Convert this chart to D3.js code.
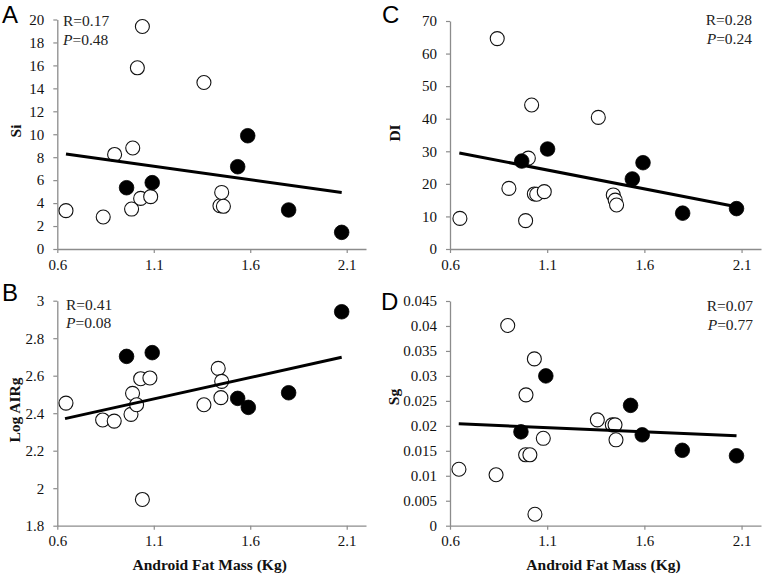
<!DOCTYPE html>
<html><head><meta charset="utf-8">
<script src="https://cdn.jsdelivr.net/npm/d3@7"></script>
<style>
html,body{margin:0;padding:0;background:#fff;}
svg{display:block;}
</style></head>
<body>
<svg id="chart" width="762" height="574"></svg>
<script>
// ---------- DATA ----------
const xTicks = [0.6, 1.1, 1.6, 2.1];

// Panel A : Si
const aOpenX = [0.645,0.838,0.897,0.985,0.991,1.015,1.032,1.041,1.084,1.360,1.443,1.452,1.461];
const aOpenY = [3.34,2.79,8.24,3.48,8.80,15.79,4.41,19.39,4.56,14.51,3.77,4.93,3.72];
const aFillX = [0.959,1.092,1.535,1.587,1.799,2.074];
const aFillY = [5.34,5.78,7.17,9.87,3.40,1.45];
const aTrendX = [0.645, 2.074];
const aTrendY = [8.27, 4.93];
const aTicks = [0,2,4,6,8,10,12,14,16,18,20];

// Panel B : Log AIRg
const bOpenX = [0.645,0.835,0.895,0.982,0.990,1.011,1.032,1.041,1.080,1.360,1.434,1.448,1.452];
const bOpenY = [2.454,2.364,2.358,2.394,2.506,2.445,2.584,1.940,2.588,2.445,2.639,2.483,2.570];
const bFillX = [0.959,1.092,1.535,1.590,1.799,2.074];
const bFillY = [2.703,2.723,2.479,2.431,2.509,2.941];
const bTrendX = [0.640, 2.074];
const bTrendY = [2.371, 2.698];
const bTicks = [1.8,2.0,2.2,2.4,2.6,2.8,3.0];

// Panel C : DI
const cOpenX = [0.651,0.843,0.903,0.989,1.003,1.020,1.034,1.046,1.085,1.363,1.440,1.450,1.457];
const cOpenY = [9.4,64.6,18.6,8.7,27.9,44.2,16.9,16.8,17.6,40.4,16.6,15.0,13.5];
const cFillX = [0.969,1.102,1.538,1.593,1.797,2.074];
const cFillY = [27.0,30.7,21.5,26.5,11.0,12.4];
const cTrendX = [0.648, 2.074];
const cTrendY = [29.5, 13.0];
const cTicks = [0,10,20,30,40,50,60,70];

// Panel D : Sg
const dOpenX = [0.646,0.837,0.897,0.989,0.991,1.011,1.034,1.037,1.080,1.358,1.435,1.449,1.454];
const dOpenY = [0.0113,0.0102,0.0401,0.0142,0.0262,0.0142,0.0334,0.0023,0.0175,0.0212,0.0202,0.0202,0.0172];
const dFillX = [0.965,1.093,1.529,1.589,1.795,2.074];
const dFillY = [0.0188,0.0300,0.0241,0.0182,0.0151,0.0140];
const dTrendX = [0.645, 2.074];
const dTrendY = [0.0204, 0.0180];
const dTicks = [0,0.005,0.01,0.015,0.02,0.025,0.03,0.035,0.04,0.045];

const panelLetters = ["A","B","C","D"];
const yTitles = ["Si","Log AIRg","DI","Sg"];
const rTexts = ["R=0.17","R=0.41","R=0.28","R=0.07"];
const pTexts = ["=0.48","=0.08","=0.24","=0.77"];
const xTitle = "Android Fat Mass (Kg)";

// ---------- LAYOUT ----------
const svg = d3.select("#chart");
const AXIS_COLOR = "#8c8c8c";
const SERIF = "'Liberation Serif','Times New Roman',serif";
const SANS = "'Liberation Sans',Arial,sans-serif";

const panels = [
  {openX:aOpenX, openY:aOpenY, fillX:aFillX, fillY:aFillY, tx:aTrendX, ty:aTrendY,
   ticks:aTicks, yDom:[0,20], xr:[57.3,366], yr:[249,19.5], fmt:d=>String(d),
   letterPos:[2,23], titlePos:[15,131], ann:{x:63,y:26,dy:19,anchor:"start"}, showXTitle:false},
  {openX:bOpenX, openY:bOpenY, fillX:bFillX, fillY:bFillY, tx:bTrendX, ty:bTrendY,
   ticks:bTicks, yDom:[1.8,3], xr:[57.3,366], yr:[525.7,300.7], fmt:d=>String(+d.toFixed(1)),
   letterPos:[2,301], titlePos:[14,410], ann:{x:66,y:309.5,dy:18,anchor:"start"}, showXTitle:true},
  {openX:cOpenX, openY:cOpenY, fillX:cFillX, fillY:cFillY, tx:cTrendX, ty:cTrendY,
   ticks:cTicks, yDom:[0,70], xr:[450,761], yr:[249,21], fmt:d=>String(d),
   letterPos:[382,23], titlePos:[394,133], ann:{x:752,y:25,dy:19,anchor:"end"}, showXTitle:false},
  {openX:dOpenX, openY:dOpenY, fillX:dFillX, fillY:dFillY, tx:dTrendX, ty:dTrendY,
   ticks:dTicks, yDom:[0,0.045], xr:[450,761], yr:[525.7,301], fmt:d=>String(+d.toFixed(3)),
   letterPos:[381,310], titlePos:[393,397], ann:{x:753,y:311,dy:19,anchor:"end"}, showXTitle:true}
];

panels.forEach((p, i) => {
  const g = svg.append("g");
  const x = d3.scaleLinear().domain([0.6, 2.2]).range(p.xr);
  const y = d3.scaleLinear().domain(p.yDom).range(p.yr);

  // y axis
  const yAx = g.append("g").attr("transform", `translate(${p.xr[0]},0)`)
    .call(d3.axisLeft(y).tickValues(p.ticks).tickFormat(p.fmt).tickSizeInner(4).tickSizeOuter(0).tickPadding(9));
  yAx.select(".domain").attr("stroke", AXIS_COLOR).attr("stroke-width", 1.3);
  yAx.selectAll(".tick line").attr("stroke", AXIS_COLOR).attr("stroke-width", 1.2);
  yAx.selectAll(".tick text").style("font-size", "15px").style("font-family", SERIF).attr("fill", "#111");

  // x axis
  const xAx = g.append("g").attr("transform", `translate(0,${p.yr[0]})`)
    .call(d3.axisBottom(x).tickValues(xTicks).tickFormat(d=>d.toFixed(1)).tickSizeInner(4).tickSizeOuter(0).tickPadding(6));
  xAx.select(".domain").attr("stroke", AXIS_COLOR).attr("stroke-width", 1.3);
  xAx.selectAll(".tick line").attr("stroke", AXIS_COLOR).attr("stroke-width", 1.2);
  xAx.selectAll(".tick text").style("font-size", "15px").style("font-family", SERIF).attr("fill", "#111");

  // open circles
  const openPts = p.openX.map((v,k)=>[v,p.openY[k]]);
  g.append("g").selectAll("circle").data(openPts).join("circle")
    .attr("cx", d=>x(d[0])).attr("cy", d=>y(d[1])).attr("r", 7)
    .attr("fill", "#fff").attr("stroke", "#111").attr("stroke-width", 1.1);

  // filled circles
  const fillPts = p.fillX.map((v,k)=>[v,p.fillY[k]]);
  g.append("g").selectAll("circle").data(fillPts).join("circle")
    .attr("cx", d=>x(d[0])).attr("cy", d=>y(d[1])).attr("r", 7.3)
    .attr("fill", "#000").attr("stroke", "#000").attr("stroke-width", 0.8);

  // trend line
  const trend = p.tx.map((v,k)=>[v,p.ty[k]]);
  g.append("path").datum(trend)
    .attr("d", d3.line().x(d=>x(d[0])).y(d=>y(d[1])))
    .attr("stroke", "#000").attr("stroke-width", 3).attr("fill", "none");

  // panel letter
  g.append("text").attr("x", p.letterPos[0]).attr("y", p.letterPos[1])
    .style("font-family", SANS).style("font-size", "24px").attr("fill", "#000")
    .text(panelLetters[i]);

  // y title
  g.append("text")
    .attr("transform", `translate(${p.titlePos[0]},${p.titlePos[1]}) rotate(-90)`)
    .attr("text-anchor", "middle").attr("dominant-baseline", "central")
    .style("font-family", SERIF).style("font-weight", "bold").style("font-size", "15.5px").attr("fill", "#111")
    .text(yTitles[i]);

  // annotation
  g.append("text").attr("x", p.ann.x).attr("y", p.ann.y).attr("text-anchor", p.ann.anchor)
    .style("font-family", SERIF).style("font-size", "15.5px").attr("fill", "#222").text(rTexts[i]);
  const pt = g.append("text").attr("x", p.ann.x).attr("y", p.ann.y + p.ann.dy).attr("text-anchor", p.ann.anchor)
    .style("font-family", SERIF).style("font-size", "15.5px").attr("fill", "#222");
  pt.append("tspan").style("font-style", "italic").text("P");
  pt.append("tspan").text(pTexts[i]);

  // x title
  if (p.showXTitle) {
    g.append("text").attr("x", (x(0.6)+x(2.2))/2 - 2).attr("y", 570)
      .attr("text-anchor", "middle")
      .style("font-family", SERIF).style("font-weight", "bold").style("font-size", "15.5px").attr("fill", "#111")
      .text(xTitle);
  }
});
</script>
</body></html>
